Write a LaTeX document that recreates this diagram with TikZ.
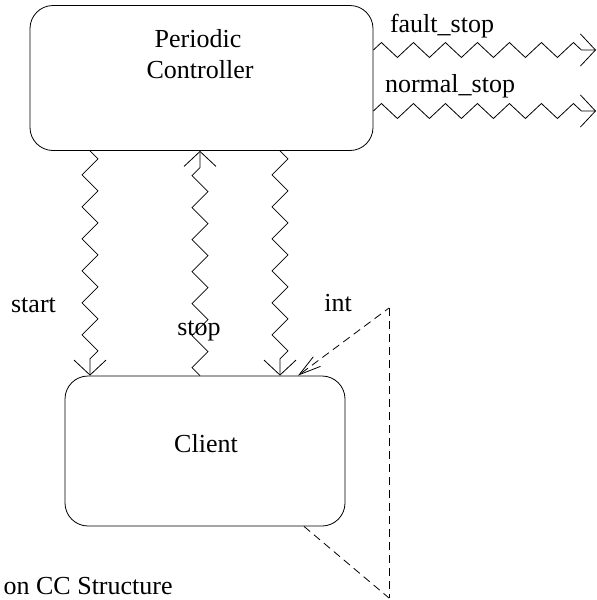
\documentclass[tikz,border=0pt]{standalone}
\usepackage{fontspec}
\setmainfont{Liberation Serif}
\usetikzlibrary{arrows.meta,decorations.pathmorphing}
\begin{document}
\begin{tikzpicture}[x=1pt,y=-1pt,line width=0.8pt,
  box/.style={draw, rectangle, rounded corners=23pt, inner sep=0pt},
  txt/.style={font=\fontsize{26}{31}\selectfont, inner sep=0pt, anchor=base},
  zig/.style={decorate, decoration={zigzag, segment length=32pt, amplitude=8pt, post length=#1}},
  tip/.style={-{Straight Barb[length=15pt,width=32pt]}},
  dashline/.style={dash pattern=on 8pt off 5pt},
]
\useasboundingbox (0,0) rectangle (597,600);

% the two components
\node[box, minimum width=343pt, minimum height=145pt] (ctrl) at (201.5,78) {};
\node[box, minimum width=280pt, minimum height=150pt] (client) at (205,451) {};

% columns of the vertical channels
\coordinate (cA) at (90,0);
\coordinate (cB) at (200,0);
\coordinate (cC) at (280,0);

\draw[zig=10pt, tip] (ctrl.south -| cA) -- (client.north -| cA);
\draw[zig=10pt, tip] (client.north -| cB) -- (ctrl.south -| cB);
\draw[zig=10pt, tip] (ctrl.south -| cC) -- (client.north -| cC);

% outgoing channels on the right
\coordinate (fEnd) at (596,50);
\coordinate (nEnd) at (596,111);
\draw[zig=9pt, decoration={amplitude=7.5pt}, tip] (ctrl.east |- fEnd) -- (fEnd);
\draw[zig=9pt, decoration={amplitude=7.5pt}, tip] (ctrl.east |- nEnd) -- (nEnd);

% interrupt source (dashed wedge)
\coordinate (tTop) at (389,308);
\coordinate (tBot) at (389,598);
\coordinate (iX) at (298,0);
\coordinate (bX) at (304,0);
\draw[dashline, dash phase=3pt, -{Straight Barb[length=22pt,width=12pt]}] (tTop) -- (client.north -| iX);
\draw[dashline] (tTop) -- (tBot);
\draw[dashline] (client.south -| bX) -- (tBot);

% labels
\node[txt] (ttl1) at (198,47) {Periodic};
\node[txt] (ttl2) at (200,78) {Controller};
\node[txt] (lStart) at (33.5,312) {start};
\node[txt] (lStop) at (199,335) {stop};
\node[txt] (lInt) at (338,311) {int};
\node[txt] (lClient) at (206,452) {Client};
\node[txt] (lFault) at (442,32) {fault\_stop};
\node[txt] (lNormal) at (450,92) {normal\_stop};
\node[txt, text depth=0pt, anchor=base east] (cap) at (173,594) {on CC Structure};
\end{tikzpicture}
\end{document}
